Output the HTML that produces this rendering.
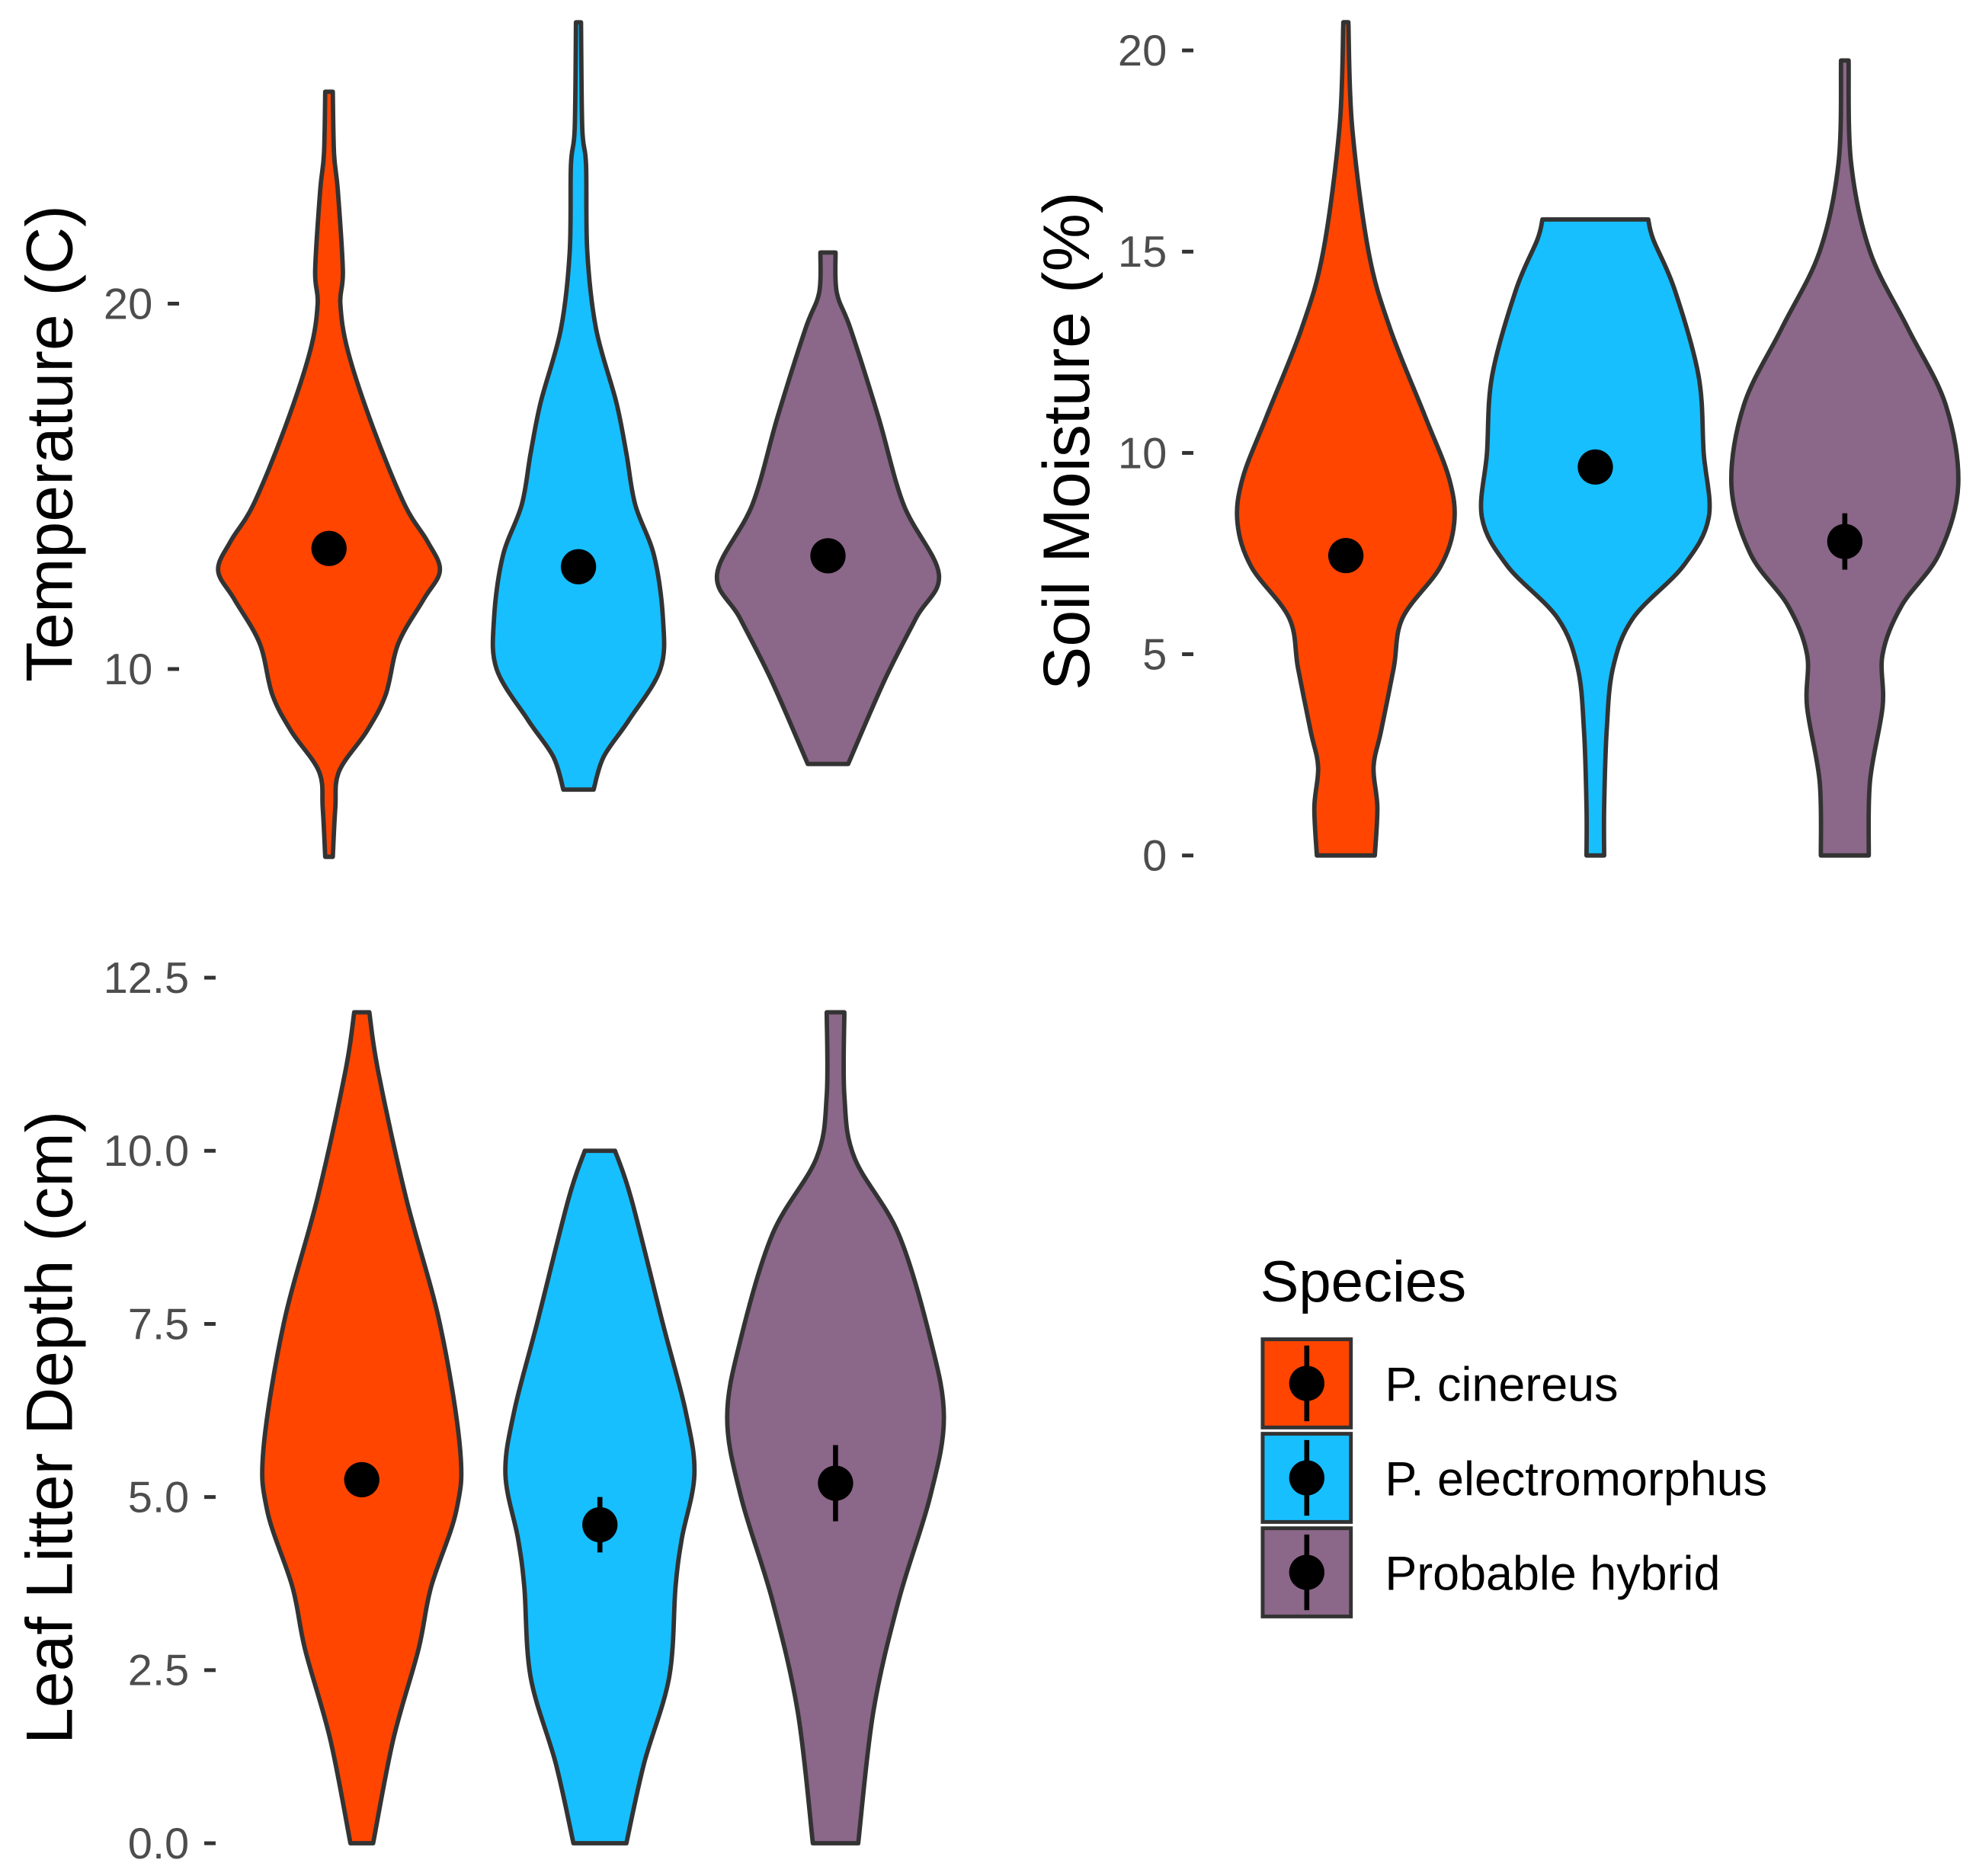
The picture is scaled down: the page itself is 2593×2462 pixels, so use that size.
<!DOCTYPE html>
<html><head><meta charset="utf-8"><style>
html,body{margin:0;padding:0;background:#fff;}
svg{display:block;}
text{font-family:"Liberation Sans",sans-serif;}
</style></head>
<body>
<svg id="chart" width="2593" height="2462" viewBox="0 0 1568 1489" xmlns="http://www.w3.org/2000/svg">
<g id="legend">
  <text x="1000" y="1033" font-size="46" fill="#000">Species</text>
</g>
</svg>
<script>
const species = ["P. cinereus","P. electromorphus","Probable hybrid"];
const colors = ["#FF4500","#17BFFF","#8B6789"];

// Temperature panel
const tempTicks = [10,20];
const tempMeans = [13.3,12.8,13.1];
const tempErr = [0.1,0.1,0.1];
const tempVals0 = [25.8,24.1,23.1,20.9,20,18.7,16.6,14.5,13.5,12.7,11.9,10.7,9.3,8.3,7.2,6.2,4.86];
const tempDens0 = [3,4,7,11,9,15,35,60,78,88,75,55,45,30,8,5,3];
const tempVals1 = [27.7,24.8,23.8,21.4,19.3,17.3,15.9,14.5,13.1,11.4,10.0,8.6,7.6,6.7];
const tempDens1 = [2,3,6,7,14,30,38,45,60,67,65,40,20,12];
const tempVals2 = [21.4,20.3,19.3,16.9,14.5,12.6,11.4,9.7,7.4];
const tempDens2 = [6,7,18,40,60,88,70,45,16];

// Soil moisture panel
const soilTicks = [0,5,10,15,20];
const soilMeans = [7.45,9.65,7.8];
const soilErr = [0.2,0.35,0.7];
const soilVals0 = [20.7,18.1,15.0,13.1,10.9,9.36,8.26,7.17,5.9,4.66,3.1,2.2,1.2,0];
const soilDens0 = [2,5,18,35,63,82,86,75,45,38,28,22,25,23];
const soilVals1 = [15.8,15.3,14.05,11.9,10.0,8.4,7.2,5.9,4.66,3.1,1.2,0];
const soilDens1 = [42,46,63,82,86,90,70,30,14,9,7,7];
const soilVals2 = [19.75,17.2,15,13.1,11.2,9.2,7.5,6.2,5.0,3.7,1.85,0];
const soilDens2 = [3,5,20,50,80,90,75,45,30,30,20,19];

// Leaf litter panel
const leafTicks = [0,2.5,5,7.5,10,12.5];
const leafTickLabels = ["0.0","2.5","5.0","7.5","10.0","12.5"];
const leafMeans = [5.25,4.6,5.2];
const leafErr = [0.2,0.4,0.55];
const leafVals0 = [12,11.15,9.33,7.5,5.7,4.8,3.7,2.8,1.5,0];
const leafDens0 = [6,13,35,62,78,75,55,45,25,9];
const leafVals1 = [10,9.3,7.5,6.24,5.33,4.4,3.7,2.4,1.15,0];
const leafDens1 = [12,25,50,68,75,65,60,55,35,21];
const leafVals2 = [12,10.8,9.9,8.8,7.3,6.15,5.0,3.5,1.9,0];
const leafDens2 = [7,7,15,50,75,86,75,50,30,18];

const NS="http://www.w3.org/2000/svg";
const svg=document.getElementById('chart');
function mk(tag,attrs,parent){const e=document.createElementNS(NS,tag);for(const k in attrs)e.setAttribute(k,attrs[k]);(parent||svg).appendChild(e);return e;}

function smooth(pts){
  let d="M"+pts[0][0]+","+pts[0][1];
  for(let i=0;i<pts.length-1;i++){
    const p0=pts[Math.max(0,i-1)],p1=pts[i],p2=pts[i+1],p3=pts[Math.min(pts.length-1,i+2)];
    const c1=[p1[0]+(p2[0]-p0[0])/6,p1[1]+(p2[1]-p0[1])/6];
    const c2=[p2[0]-(p3[0]-p1[0])/6,p2[1]-(p3[1]-p1[1])/6];
    d+=" C"+c1[0]+","+c1[1]+" "+c2[0]+","+c2[1]+" "+p2[0]+","+p2[1];
  }
  return d;
}

function panel(cfg){
  const g=mk('g',{});
  
  
  const y=v=>cfg.y0-(v-cfg.v0)*cfg.k;
  cfg.ticks.forEach((t,i)=>{
    const tk=mk('line',{x1:cfg.tickX,x2:cfg.tickX+9,y1:y(t),y2:y(t),stroke:'#333','stroke-width':3},g);
    
    
    const tl=mk('text',{x:cfg.tickX-12,y:y(t)+12,'text-anchor':'end','font-size':35,fill:'#4d4d4d'},g);
    tl.textContent=cfg.labels?cfg.labels[i]:String(t);
    
    
  });
  const tt=mk('text',{x:0,y:0,'text-anchor':'middle','font-size':52,fill:'#000',transform:`translate(${cfg.titleX},${cfg.titleY}) rotate(-90)`},g);
  tt.textContent=cfg.title;
  
  
  cfg.vals.forEach((vals,i)=>{
    const dens=cfg.dens[i], cx=cfg.cx[i];
    const right=vals.map((v,j)=>[cx+dens[j],y(v)]);
    const left=vals.map((v,j)=>[cx-dens[j],y(v)]).reverse();
    let d=smooth(right)+" L"+left[0][0]+","+left[0][1]+smooth(left).replace(/^M[^C]*/,' ')+" Z";
    const p=mk('path',{d:d,fill:colors[i],stroke:'#333','stroke-width':3.5,'stroke-linejoin':'round'},g);
    
    
    const m=cfg.means[i], e=cfg.err[i];
    const el=mk('line',{x1:cx,x2:cx,y1:y(m-e),y2:y(m+e),stroke:'#000','stroke-width':4},g);
    
    
    const c=mk('circle',{cx:cx,cy:y(m),r:14,fill:'#000'},g);
    
    
  });
}

panel({name:'temperature-panel',y0:531,v0:10,k:29,tickX:133,ticks:tempTicks,title:'Temperature (C)',titleX:57,titleY:352,
  cx:[261,459,657],vals:[tempVals0,tempVals1,tempVals2],dens:[tempDens0,tempDens1,tempDens2],means:tempMeans,err:tempErr});
panel({name:'soil-moisture-panel',y0:679,v0:0,k:31.95,tickX:938,ticks:soilTicks,title:'Soil Moisture (%)',titleX:864,titleY:350,
  cx:[1068,1266,1464],vals:[soilVals0,soilVals1,soilVals2],dens:[soilDens0,soilDens1,soilDens2],means:soilMeans,err:soilErr});
panel({name:'leaf-litter-panel',y0:1463,v0:0,k:54.96,tickX:162,ticks:leafTicks,labels:leafTickLabels,title:'Leaf Litter Depth (cm)',titleX:57,titleY:1133,
  cx:[287,476,663],vals:[leafVals0,leafVals1,leafVals2],dens:[leafDens0,leafDens1,leafDens2],means:leafMeans,err:leafErr});

const lg=document.getElementById('legend');
species.forEach((s,i)=>{
  const top=1063+i*75;
  const r=mk('rect',{x:1002,y:top,width:70,height:70,fill:colors[i],stroke:'#333','stroke-width':3},lg);
  
  
  const l=mk('line',{x1:1037,x2:1037,y1:top+5,y2:top+65,stroke:'#000','stroke-width':4},lg);
  
  
  const c=mk('circle',{cx:1037,cy:top+35,r:14,fill:'#000'},lg);
  
  
  const t=mk('text',{x:1099,y:top+49,'font-size':38,fill:'#000'},lg);
  t.textContent=s;
  
  
});
</script>
</body></html>
